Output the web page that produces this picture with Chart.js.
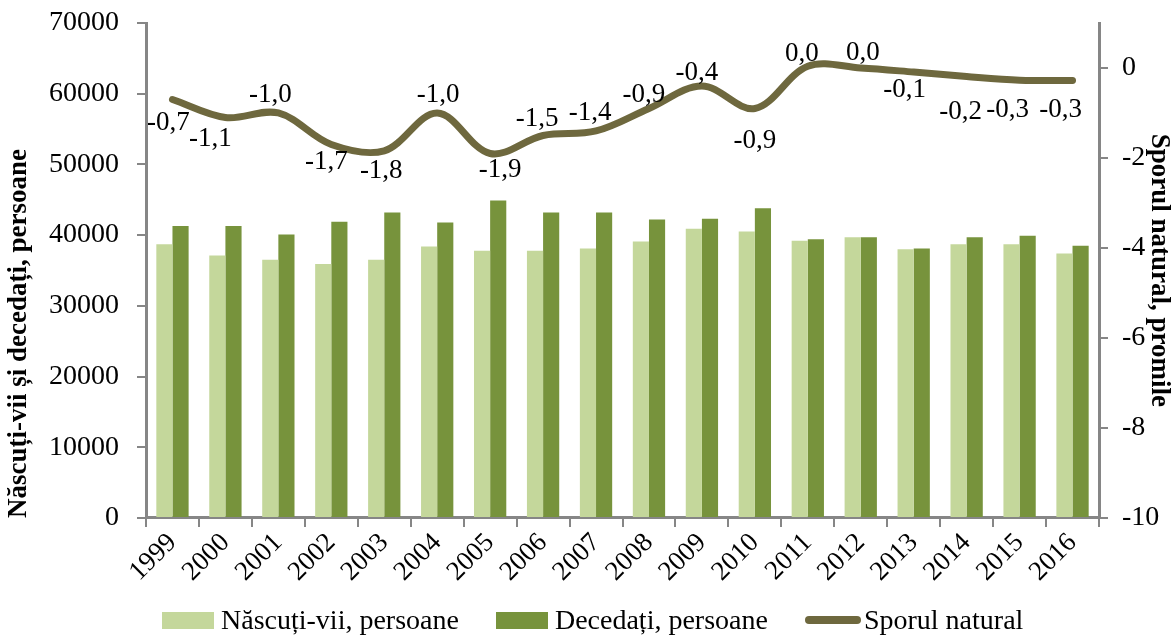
<!DOCTYPE html>
<html>
<head>
<meta charset="utf-8">
<script src="https://cdn.jsdelivr.net/npm/chart.js@4/dist/chart.umd.min.js"></script>
<style>
  html, body { margin: 0; padding: 0; background: #fff; overflow: hidden; }
  #wrap { position: relative; width: 1172px; height: 636px; overflow: hidden; }
  #plot { position: absolute; left: 0; top: -9px; width: 1172px; height: 645px; }
  #legend { position: absolute; left: 162px; top: 604px; display: flex; align-items: center;
    font-family: 'Liberation Serif', 'Times New Roman', serif; font-size: 28px; color: #000; white-space: nowrap; }
  #legend .item { display: flex; align-items: center; margin-right: 37px; }
  #legend .key { display: inline-block; width: 52px; height: 17px; margin-right: 7px; }
  #legend .line { height: 8px; border-radius: 4px; width: 56px; margin-right: 3px; }
</style>
</head>
<body>
<div id="wrap"><div id="plot"><canvas id="myChart"></canvas></div><div id="legend"></div></div>
<script>
// data
const years = ['1999', '2000', '2001', '2002', '2003', '2004', '2005', '2006', '2007',
  '2008', '2009', '2010', '2011', '2012', '2013', '2014', '2015', '2016'];
const nascuti = [38700, 37100, 36500, 35900, 36500, 38400, 37800, 37800, 38100,
  39100, 40900, 40500, 39200, 39700, 38000, 38700, 38700, 37400];
const decedati = [41300, 41300, 40100, 41900, 43200, 41800, 44900, 43200, 43200,
  42200, 42300, 43800, 39400, 39700, 38100, 39700, 39900, 38500];
const sporul = [-0.7, -1.1, -1.0, -1.7, -1.84, -1.0, -1.9, -1.5, -1.4,
  -0.9, -0.4, -0.9, 0.04, 0.0, -0.09, -0.19, -0.27, -0.28];
const leftTicks = [0, 10000, 20000, 30000, 40000, 50000, 60000, 70000];
const rightTicks = [-10, -8, -6, -4, -2, 0];

// label offsets for the line values (dx, dy from the point)
const labelOffsets = [[-4, 23], [-15, 21], [-8, -18], [-5, 17], [-3, 20], [1, -18],
  [10, 16], [-6, -17], [-6, -18], [-5, -14], [-5, -13], [0, 32], [-6, -12],
  [2, -15], [-9, 18], [-6, 35], [-12, 30], [-12, 29]];

const serif = "'Liberation Serif', 'Times New Roman', serif";
const axisGrey = '#868686';

const valueLabels = {
  id: 'valueLabels',
  afterDatasetsDraw(chart) {
    const meta = chart.getDatasetMeta(2);
    const c = chart.ctx;
    c.save();
    c.font = '27px ' + serif;
    c.fillStyle = '#000';
    c.textAlign = 'center';
    c.textBaseline = 'middle';
    meta.data.forEach((pt, i) => {
      const txt = sporul[i].toFixed(1).replace('.', ',').replace('-0,0', '0,0');
      c.fillText(txt, pt.x + labelOffsets[i][0], pt.y + labelOffsets[i][1]);
    });
    c.restore();
  }
};

// legend drawn as html under the chart
const htmlLegend = {
  id: 'htmlLegend',
  afterUpdate(chart) {
    const box = document.getElementById('legend');
    box.innerHTML = '';
    chart.data.datasets.forEach(ds => {
      const item = document.createElement('span');
      item.className = 'item';
      const key = document.createElement('span');
      key.className = ds.type === 'line' ? 'key line' : 'key';
      key.style.background = ds.type === 'line' ? ds.borderColor : ds.backgroundColor;
      const txt = document.createElement('span');
      txt.textContent = ds.label;
      item.appendChild(key);
      item.appendChild(txt);
      box.appendChild(item);
    });
  }
};

const tickGrid = { display: true, drawOnChartArea: false, drawTicks: true, tickLength: 9, color: axisGrey, lineWidth: 2 };

const ctx = document.getElementById('myChart');

new Chart(ctx, {
  type: 'bar',
  data: {
    labels: years,
    datasets: [{
      label: 'Născuți-vii, persoane',
      data: nascuti,
      backgroundColor: '#c4d79b',
      barPercentage: 1,
      categoryPercentage: 0.61,
      yAxisID: 'y'
    }, {
      label: 'Decedați, persoane',
      data: decedati,
      backgroundColor: '#77933c',
      barPercentage: 1,
      categoryPercentage: 0.61,
      yAxisID: 'y'
    }, {
      type: 'line',
      label: 'Sporul natural',
      data: sporul,
      borderColor: '#6e683e',
      backgroundColor: '#6e683e',
      borderWidth: 7,
      borderCapStyle: 'round',
      pointRadius: 0,
      tension: 0.35,
      yAxisID: 'y1'
    }]
  },
  options: {
    responsive: true,
    maintainAspectRatio: false,
    animation: false,
    layout: { padding: { top: 0, left: 4, right: 0, bottom: 48 } },
    plugins: {
      tooltip: { enabled: false },
      legend: { display: false }
    },
    scales: {
      x: {
        grid: tickGrid,
        border: { color: axisGrey, width: 3 },
        ticks: { color: '#000', font: { family: serif, size: 27 }, minRotation: 45, maxRotation: 45, padding: 0 }
      },
      y: {
        position: 'left',
        min: 0,
        max: 70000,
        afterBuildTicks(axis) { axis.ticks = leftTicks.map(v => ({ value: v })); },
        afterFit(axis) { axis.width = 142; },
        grid: tickGrid,
        border: { color: axisGrey, width: 3 },
        ticks: { color: '#000', font: { family: serif, size: 28, lineHeight: 1 }, padding: 18, callback: v => String(v) },
        title: {
          display: true,
          align: 'start',
          text: 'Născuți-vii și decedați, persoane',
          color: '#000',
          font: { family: serif, size: 27, weight: 'bold', lineHeight: 1 },
          padding: { top: 2, bottom: 6 }
        }
      },
      y1: {
        position: 'right',
        min: -10,
        max: 1,
        afterBuildTicks(axis) { axis.ticks = rightTicks.map(v => ({ value: v })); },
        afterFit(axis) { axis.width = 73; },
        grid: tickGrid,
        border: { color: axisGrey, width: 3 },
        ticks: { color: '#000', font: { family: serif, size: 28, lineHeight: 1 }, padding: 14 },
        title: {
          display: true,
          text: 'Sporul natural, promile',
          color: '#000',
          font: { family: serif, size: 27, weight: 'bold', lineHeight: 1 },
          padding: { top: 0, bottom: 0 }
        }
      }
    }
  },
  plugins: [valueLabels, htmlLegend]
});
</script>
</body>
</html>
